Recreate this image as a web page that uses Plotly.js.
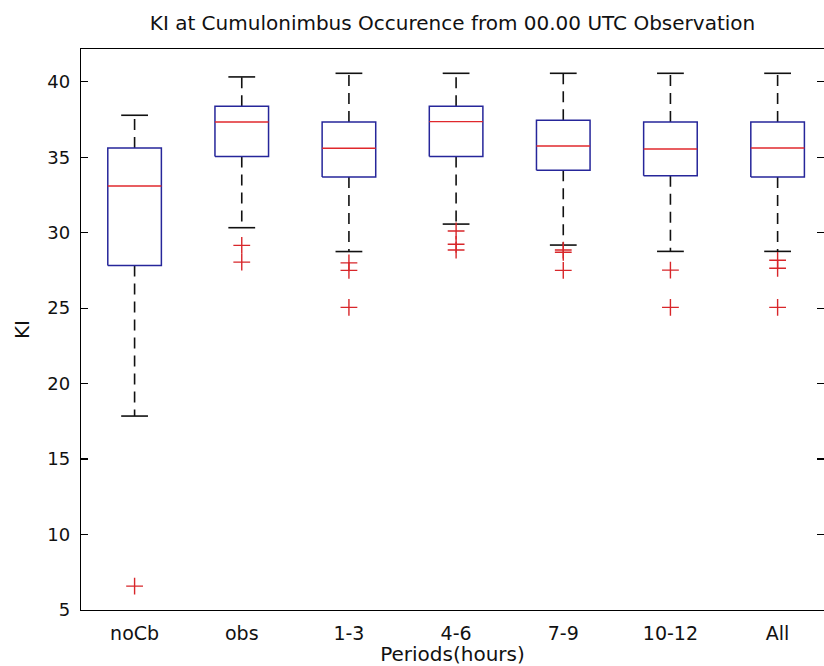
<!DOCTYPE html>
<html>
<head>
<meta charset="utf-8">
<script src="https://cdn.plot.ly/plotly-3.0.1.min.js"></script>
<style>
html,body{margin:0;padding:0;background:#fff;overflow:hidden;}
#chart{width:824px;height:666px;}
</style>
</head>
<body>
<div id="chart"></div>
<script>
// ---- data ----
const categories = ["noCb", "obs", "1-3", "4-6", "7-9", "10-12", "All"];
const lowerWhisker = [17.85, 30.33, 28.75, 30.57, 29.18, 28.76, 28.76];
const q1Values     = [27.82, 35.04, 33.69, 35.04, 34.13, 33.78, 33.69];
const medianValues = [33.09, 37.33, 35.59, 37.36, 35.74, 35.54, 35.61];
const q3Values     = [35.61, 38.38, 37.33, 38.38, 37.45, 37.33, 37.33];
const upperWhisker = [37.78, 40.32, 40.56, 40.56, 40.56, 40.56, 40.56];
const outliers = [
  [6.58],
  [29.16, 28.05],
  [28.0, 27.5, 25.05],
  [30.11, 29.23, 28.85],
  [28.85, 28.7, 27.5],
  [27.52, 25.05],
  [28.17, 27.64, 25.05]
];
const yTicks = [5, 10, 15, 20, 25, 30, 35, 40];

// ---- build marks from data ----
const halfBox = 0.25, halfCap = 0.125;
const boxX = [], boxY = [], medX = [], medY = [];
const whiskX = [], whiskY = [], capX = [], capY = [];
const outX = [], outY = [];
categories.forEach((c, i) => {
  const x = i + 1;
  boxX.push(x - halfBox, x + halfBox, x + halfBox, x - halfBox, x - halfBox, null);
  boxY.push(q1Values[i], q1Values[i], q3Values[i], q3Values[i], q1Values[i], null);
  medX.push(x - halfBox, x + halfBox, null);
  medY.push(medianValues[i], medianValues[i], null);
  whiskX.push(x, x, null, x, x, null);
  whiskY.push(q3Values[i], upperWhisker[i], null, q1Values[i], lowerWhisker[i], null);
  capX.push(x - halfCap, x + halfCap, null, x - halfCap, x + halfCap, null);
  capY.push(upperWhisker[i], upperWhisker[i], null, lowerWhisker[i], lowerWhisker[i], null);
  outliers[i].forEach(v => { outX.push(x); outY.push(v); });
});

const traces = [
  {type: "scatter", mode: "lines", x: whiskX, y: whiskY, hoverinfo: "skip",
   line: {color: "#111111", width: 1.6, dash: "11px,7px"}},
  {type: "scatter", mode: "lines", x: capX, y: capY, hoverinfo: "skip",
   line: {color: "#111111", width: 1.6}},
  {type: "scatter", mode: "lines", x: boxX, y: boxY, hoverinfo: "skip",
   line: {color: "#26269a", width: 1.5}},
  {type: "scatter", mode: "lines", x: medX, y: medY, hoverinfo: "skip",
   line: {color: "#e0282c", width: 1.4}},
  {type: "scatter", mode: "markers", x: outX, y: outY,
   marker: {symbol: "cross-thin", size: 12, line: {color: "#d8262a", width: 1.4}}}
];

const font = {family: "DejaVu Sans, Verdana, sans-serif", color: "#111"};

const layout = {
  width: 824, height: 666,
  margin: {l: 81, r: 0, t: 49, b: 56, pad: 0},
  paper_bgcolor: "#fff", plot_bgcolor: "#fff",
  showlegend: false,
  font: Object.assign({size: 18}, font),
  title: {text: "KI at Cumulonimbus Occurence from 00.00 UTC Observation",
          font: Object.assign({size: 20}, font),
          xref: "paper", x: 0.5, xanchor: "center",
          yref: "container", y: 1 - 23/666, yanchor: "middle"},
  xaxis: {
    range: [0.5, 0.5 + 743/107.17],
    tickvals: categories.map((c, i) => i + 1), ticktext: categories,
    ticks: "", showgrid: false, zeroline: false,
    showline: true, linecolor: "#000", linewidth: 1.2, mirror: true,
    tickfont: Object.assign({size: 19}, font),
    ticklabelstandoff: 6,
    title: {text: "Periods(hours)", font: Object.assign({size: 20}, font), standoff: 0}
  },
  yaxis: {
    range: [5, 42.17],
    tickvals: yTicks, ticktext: yTicks.map(String),
    ticks: "inside", ticklen: 7, tickwidth: 1.2, tickcolor: "#000",
    showgrid: false, zeroline: false,
    showline: true, linecolor: "#000", linewidth: 1.2, mirror: "ticks",
    tickfont: Object.assign({size: 18}, font),
    ticklabelstandoff: 6,
    title: {text: "KI", font: Object.assign({size: 20}, font), standoff: 12}
  }
};

Plotly.newPlot("chart", traces, layout, {displayModeBar: false, staticPlot: true});
</script>
</body>
</html>
